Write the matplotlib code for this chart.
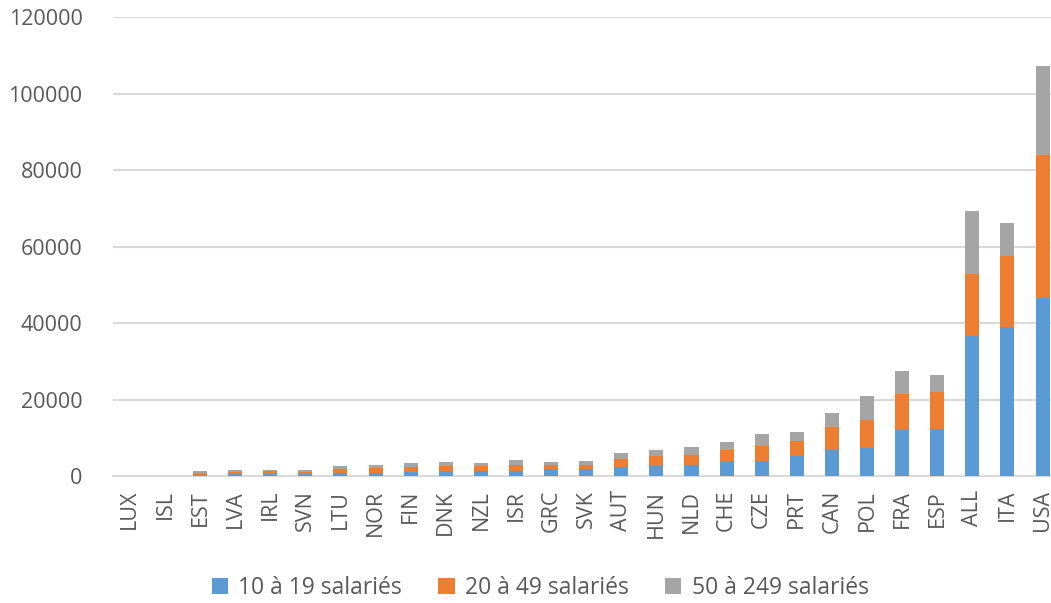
import numpy as np
import matplotlib.pyplot as plt

# data (segment heights)
pays = ["LUX", "ISL", "EST", "LVA", "IRL", "SVN", "LTU", "NOR", "FIN", "DNK",
        "NZL", "ISR", "GRC", "SVK", "AUT", "HUN", "NLD", "CHE", "CZE", "PRT",
        "CAN", "POL", "FRA", "ESP", "ALL", "ITA", "USA"]
s10_19 = [0, 0, 350, 400, 500, 520, 700, 790, 1140, 1220,
          1310, 1400, 1750, 1750, 2450, 2710, 2880, 3760, 3950, 5240,
          6900, 7400, 12130, 12250, 36500, 39000, 46500]
s20_49 = [0, 0, 440, 560, 810, 620, 1050, 1220, 1310, 1400,
          1220, 1570, 1040, 1040, 2090, 2440, 2530, 3050, 3990, 4010,
          6000, 7270, 9430, 9650, 16250, 18600, 37500]
s50_249 = [0, 0, 430, 520, 350, 430, 780, 780, 870, 1050,
           790, 1130, 790, 1140, 1490, 1750, 2100, 2010, 3080, 2280,
           3500, 6290, 5900, 4400, 16450, 8500, 23200]
series_labels = ["10 à 19 salariés", "20 à 49 salariés", "50 à 249 salariés"]
colors = ["#5b9bd5", "#ed7d31", "#a5a5a5"]

plt.rcParams['font.family'] = ['Open Sans', 'DejaVu Sans']
txt = "#595959"

fig = plt.figure(figsize=(10.51, 6.03), dpi=100)
ax = fig.add_axes([0.1075, 0.2106, 0.8925, 0.7612])

x = np.arange(len(pays))
bottom = np.zeros(len(pays))
for vals, lab, c in zip([s10_19, s20_49, s50_249], series_labels, colors):
    ax.bar(x, vals, width=0.4, bottom=bottom, color=c, label=lab, zorder=3)
    bottom += np.array(vals)

ax.set_ylim(0, 120000)
ax.set_xlim(-0.48, 26.24)
ax.set_yticks(range(0, 120001, 20000))
ax.yaxis.grid(True, color="#d9d9d9", linewidth=1.5, zorder=0)
ax.set_xticks(x)
ax.set_xticklabels(pays, rotation=90)
ax.tick_params(axis='both', length=0, labelsize=15.5, colors=txt)
ax.tick_params(axis='y', pad=22)
ax.tick_params(axis='x', pad=10)
for s in ["left", "right", "top"]:
    ax.spines[s].set_visible(False)
ax.spines["bottom"].set_color("#d9d9d9")
ax.spines["bottom"].set_linewidth(1.5)

leg = fig.legend(loc="lower center", bbox_to_anchor=(0.514, -0.03), ncol=3,
                 frameon=False, fontsize=16.5, handlelength=0.7, handleheight=0.7,
                 columnspacing=1.6, handletextpad=0.45)
for t in leg.get_texts():
    t.set_color(txt)

fig.savefig("out.png", dpi=100)
